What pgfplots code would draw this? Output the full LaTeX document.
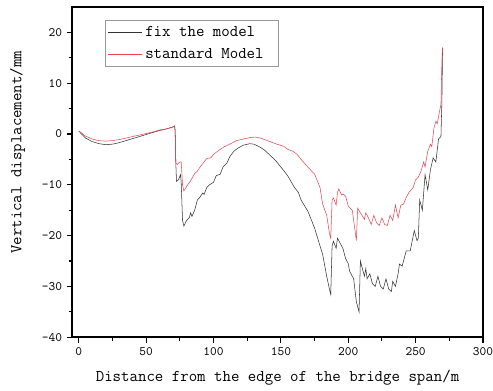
\documentclass[border=0pt]{standalone}
\usepackage{pgfplots}
\pgfplotsset{compat=1.18}
\usepackage{fontspec}
\definecolor{redl}{RGB}{228,70,85}
\definecolor{blk}{RGB}{50,50,50}
\begin{document}
\begin{tikzpicture}
\useasboundingbox (-54pt,-39.75pt) rectangle (315.5pt,252.75pt);
\begin{axis}[
  scale only axis,
  width=308pt, height=247.5pt,
  xmin=-5, xmax=300, ymin=-40, ymax=25,
  xtick={0,50,...,300}, ytick={-40,-30,...,20},
  minor xtick={25,75,...,275}, minor ytick={-35,-25,...,15},
  tick align=outside, tick pos=left,
  major tick length=4pt, minor tick length=2.5pt,
  every tick/.style={black, line width=0.8pt},
  axis line style={line width=1.1pt},
  /pgf/number format/assume math mode=true,
  ticklabel style={font=\ttfamily\fontsize{9.6}{10}\selectfont},
  xlabel={Distance from the edge of the bridge span/m},
  ylabel={Vertical displacement/mm},
  label style={font=\ttfamily\fontsize{12.3}{13}\selectfont},
  xlabel style={at={(axis description cs:0.5,-0.122)}, anchor=center},
  ylabel style={at={(axis description cs:-0.133,0.56)}, anchor=center},
  legend style={at={(0.08,0.962)}, anchor=north west, draw=gray!80, line width=0.5pt,
    font=\ttfamily\fontsize{12.3}{13}\selectfont, inner xsep=2pt, inner ysep=2.5pt, row sep=3.5pt},
  legend cell align=left,
  legend image post style={xscale=1.5},
]
\addplot[blk, line width=0.4pt] coordinates {
(0,0.6)(2,0)(5,-0.8)(10,-1.5)(15,-1.9)(20,-2.1)(25,-2.0)(30,-1.7)(35,-1.3)(40,-0.9)
(45,-0.5)(50,-0.1)(55,0.3)(60,0.7)(65,1.0)(70,1.4)(71,1.6)(71.5,0.8)(72,-5.5)(72.5,-9.3)
(74,-9.0)(75.5,-8.0)(76,-9.5)(77,-17)(78,-18.1)(80,-17.0)(82,-16.5)(83,-15.5)(84,-16.2)
(86,-15)(88,-13)(90,-12.4)(92,-11.6)(93,-11.9)(95,-10.5)(97,-10.0)(100,-9.5)(102,-8.2)
(105,-7.9)(107,-6.5)(110,-5.7)(112,-4.5)(115,-3.4)(118,-2.8)(122,-2.2)(127,-1.9)(130,-2.0)
(134,-2.5)(138,-3.2)(142,-4.2)(146,-5.2)(150,-6.5)(155,-8.2)(160,-10.5)(163,-11.5)(165,-13)
(170,-15.2)(172,-16.5)(175,-18.5)(179,-22)(181,-23.7)(184,-28)(186,-30.5)(187,-31.6)
(188,-22)(189,-21.1)(191,-22.5)(192,-20.5)(194,-21.5)(196,-22.5)(198,-24.5)(200,-25.5)
(201,-27)(204,-28.5)(206,-33)(208,-35)(209,-25)(210,-26)(212,-28)(213,-26.5)(214,-28.5)
(216,-27.5)(218,-29.5)(220,-30)(222,-28)(224,-30)(226,-30.5)(228,-28.5)(230,-30.5)
(232,-31)(233,-29)(235,-30)(237,-27.5)(238,-25.6)(240,-26)(243,-23)(246,-23)(249,-19)
(251,-21)(252,-20.5)(253,-13)(255,-15)(257,-8)(259,-11)(261,-7)(263,-4.7)(265,-5.5)
(267,-1)(268.8,-0.5)(269.5,6.5)(270,17)
};
\addlegendentry{\makebox[96pt][l]{fix the model}}
\addplot[redl, line width=0.4pt] coordinates {
(0,0.6)(2,0.2)(5,-0.4)(10,-1.0)(15,-1.3)(20,-1.4)(25,-1.3)(30,-1.1)(35,-0.8)(40,-0.5)
(45,-0.2)(50,0.1)(55,0.4)(60,0.8)(65,1.0)(70,1.4)(71,1.6)(71.5,0.8)(72,-5.7)(73,-6.0)
(75,-5.5)(76,-5.5)(77,-10)(78,-11.2)(79,-10.8)(80,-10.3)(83,-9.2)(86,-7.8)(88,-7.3)
(90,-6.5)(93,-5.5)(95,-4.8)(98,-4.7)(100,-4.0)(104,-3.2)(108,-2.5)(112,-2.0)(117,-1.3)
(122,-1.0)(127,-0.7)(131,-0.6)(135,-0.8)(139,-1.2)(143,-1.6)(147,-2.0)(152,-2.4)(155,-3.0)
(159,-3.4)(162,-4.0)(166,-5.3)(170,-6.5)(175,-7.9)(179,-10.5)(181,-13.8)(184,-16)
(186,-19.5)(187,-20.5)(188,-13)(189,-12.6)(191,-14)(192,-11.5)(193,-10.8)(195,-12)
(196,-11.8)(198,-12.2)(200,-14.2)(203,-15)(205,-19)(206,-21)(207,-14.6)(209,-15.5)
(212,-16.8)(213,-15.5)(215,-16.5)(217,-17.8)(219,-16)(221,-17.5)(223,-18)(225,-16.5)
(227,-17.8)(229,-18)(231,-16)(233,-17)(235,-14)(237,-16.5)(239,-14)(241,-13.8)(243,-12.5)
(245,-11.5)(248,-10.6)(250,-9)(252,-8.5)(254,-7.3)(256,-5.5)(257,-6.5)(259,-3.4)(261,-2)
(262,-2.5)(263.6,1.2)(265,2.5)(266,2)(268.8,5.9)(269.5,14.4)(270,17)
};
\addlegendentry{\makebox[96pt][l]{standard Model}}
\end{axis}
\end{tikzpicture}
\end{document}
